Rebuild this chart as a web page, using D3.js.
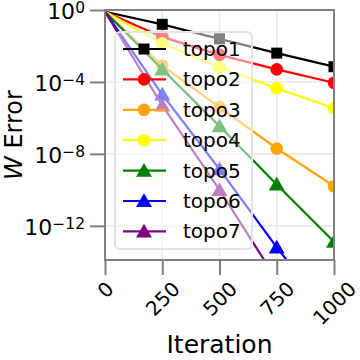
<!DOCTYPE html>
<html>
<head>
<meta charset="utf-8">
<script src="https://cdn.jsdelivr.net/npm/d3@7"></script>
<style>
  body { margin: 0; background: #fff; }
  svg text { font-family: "DejaVu Sans", sans-serif; }
</style>
</head>
<body>
<div id="chart"></div>
<script>
// data
var iterations = [0, 250, 500, 750, 1000];
var seriesNames = ["topo1", "topo2", "topo3", "topo4", "topo5", "topo6", "topo7"];
var topo1 = [0.8, 0.16, 0.025, 0.004, 7e-4];
var topo2 = [0.8, 0.032, 0.0032, 5e-4, 9e-5];
var topo3 = [0.8, 8e-4, 4e-6, 2e-8, 1.6e-10];
var topo4 = [0.8, 0.014, 6.3e-4, 4.5e-5, 3.5e-6];
var topo5 = [0.8, 5e-4, 3.5e-7, 2e-10, 1.3e-13];
var topo6 = [0.8, 2e-5, 1.4e-9, 6.3e-14, 6e-18];
var topo7 = [0.8, 5e-6, 1e-10, 1e-15, 1e-19];
var seriesColors = ["#000000", "#ff0000", "#ffa500", "#ffff00", "#008000", "#0000ff", "#800080"];
var seriesMarkers = ["square", "circle", "circle", "circle", "triangle", "triangle", "triangle"];
var xTicks = [0, 250, 500, 750, 1000];
var yTickExps = [0, -4, -8, -12];

var allSeries = [topo1, topo2, topo3, topo4, topo5, topo6, topo7];

var svgW = 360, svgH = 360;
var pL = 105, pR = 334, pT = 10, pB = 260;

var svg = d3.select('#chart')
  .append('svg')
  .attr('width', svgW)
  .attr('height', svgH);

var x = d3.scaleLinear().domain([0, 1000]).range([pL, pR]);
var y = d3.scaleLog().domain([Math.pow(10, -13.9), 1]).range([pB, pT]);

svg.append('defs').append('clipPath').attr('id', 'plotclip')
  .append('rect')
  .attr('x', pL).attr('y', pT)
  .attr('width', pR - pL).attr('height', pB - pT);

// grid
var grid = svg.append('g');
grid.selectAll('line.gx').data(xTicks).enter().append('line')
  .attr('x1', function(d){ return x(d); }).attr('x2', function(d){ return x(d); })
  .attr('y1', pT).attr('y2', pB)
  .attr('stroke', '#ebebeb').attr('stroke-width', 1.6);
grid.selectAll('line.gy').data(yTickExps).enter().append('line')
  .attr('y1', function(d){ return y(Math.pow(10, d)); }).attr('y2', function(d){ return y(Math.pow(10, d)); })
  .attr('x1', pL).attr('x2', pR)
  .attr('stroke', '#ebebeb').attr('stroke-width', 1.6);

function markerPath(kind) {
  if (kind === 'square') return d3.symbol().type(d3.symbolSquare).size(121)();
  if (kind === 'circle') return d3.symbol().type(d3.symbolCircle).size(125)();
  return d3.symbol().type(d3.symbolTriangle).size(110)();
}

// lines + markers
var plot = svg.append('g').attr('clip-path', 'url(#plotclip)');
var line = d3.line()
  .x(function(d){ return x(d[0]); })
  .y(function(d){ return y(d[1]); });

allSeries.forEach(function(vals, i){
  var pts = iterations.map(function(it, j){ return [it, vals[j]]; });
  plot.append('path')
    .attr('d', line(pts))
    .attr('fill', 'none')
    .attr('stroke', seriesColors[i])
    .attr('stroke-width', 2.2);
  plot.selectAll(null).data(pts.slice(1)).enter().append('path')
    .attr('d', markerPath(seriesMarkers[i]))
    .attr('transform', function(d){
      var dy = seriesMarkers[i] === 'triangle' ? 1.5 : 0;
      return 'translate(' + x(d[0]) + ',' + (y(d[1]) + dy) + ')';
    })
    .attr('fill', seriesColors[i]);
});

// spines
svg.append('rect')
  .attr('x', pL).attr('y', pT)
  .attr('width', pR - pL).attr('height', pB - pT)
  .attr('fill', 'none').attr('stroke', '#808080').attr('stroke-width', 2);

// x axis
var xAxis = svg.append('g')
  .attr('transform', 'translate(0,' + pB + ')')
  .call(d3.axisBottom(x).tickValues(xTicks).tickSize(15).tickSizeOuter(0).tickFormat(d3.format('d')));
xAxis.select('.domain').remove();
xAxis.selectAll('line').attr('stroke', '#808080').attr('stroke-width', 2);
xAxis.selectAll('text')
  .attr('font-size', 20)
  .attr('fill', '#000')
  .attr('text-anchor', 'middle')
  .attr('dy', null)
  .attr('dominant-baseline', 'central')
  .each(function(d){
    var w = this.getComputedTextLength();
    var cy = 19 + (w + 18) / (2 * Math.SQRT2);
    d3.select(this).attr('y', null)
      .attr('transform', 'translate(0,' + cy + ') rotate(-45)');
  });

// y axis
var yAxis = svg.append('g')
  .attr('transform', 'translate(' + pL + ',0)')
  .call(d3.axisLeft(y).tickValues(yTickExps.map(function(e){ return Math.pow(10, e); }))
    .tickSize(15).tickSizeOuter(0).tickFormat(function(){ return ''; }));
yAxis.select('.domain').remove();
yAxis.selectAll('line').attr('stroke', '#808080').attr('stroke-width', 2);
yAxis.selectAll('text')
  .attr('font-size', 22)
  .attr('fill', '#000')
  .attr('x', -20)
  .attr('dy', '0.38em')
  .each(function(d){
    var t = d3.select(this);
    var e = Math.round(Math.log10(d));
    t.append('tspan').text('10');
    t.append('tspan').attr('dy', '-0.38em').attr('font-size', 15.5)
      .text(e === 0 ? '0' : '\u2212' + Math.abs(e));
  });

// axis labels
svg.append('text')
  .attr('x', (pL + pR) / 2).attr('y', 353)
  .attr('text-anchor', 'middle')
  .attr('font-size', 25)
  .text('Iteration');

var yl = svg.append('text')
  .attr('transform', 'translate(22,' + ((pT + pB) / 2) + ') rotate(-90)')
  .attr('text-anchor', 'middle')
  .attr('font-size', 24);
yl.append('tspan').attr('font-style', 'italic').text('W');
yl.append('tspan').text(' Error');

// legend
var legend = svg.append('g');
legend.append('rect')
  .attr('x', 115).attr('y', 32).attr('width', 137).attr('height', 217)
  .attr('rx', 5).attr('ry', 5)
  .attr('fill', '#fff').attr('fill-opacity', 0.5)
  .attr('stroke', '#e3e3e3').attr('stroke-width', 2);

var rows = legend.selectAll('g.row').data(seriesNames).enter().append('g')
  .attr('transform', function(d, i){ return 'translate(0,' + (49 + i * 30.4) + ')'; });
rows.append('line')
  .attr('x1', 123).attr('x2', 166).attr('y1', 0).attr('y2', 0)
  .attr('stroke', function(d, i){ return seriesColors[i]; })
  .attr('stroke-width', 2.2);
rows.append('path')
  .attr('d', function(d, i){ return markerPath(seriesMarkers[i]); })
  .attr('transform', function(d, i){ return 'translate(144,' + (seriesMarkers[i] === 'triangle' ? 1.5 : 0) + ')'; })
  .attr('fill', function(d, i){ return seriesColors[i]; });
rows.append('text')
  .attr('x', 183).attr('y', 7)
  .attr('font-size', 20)
  .text(function(d){ return d; });
</script>
</body>
</html>
